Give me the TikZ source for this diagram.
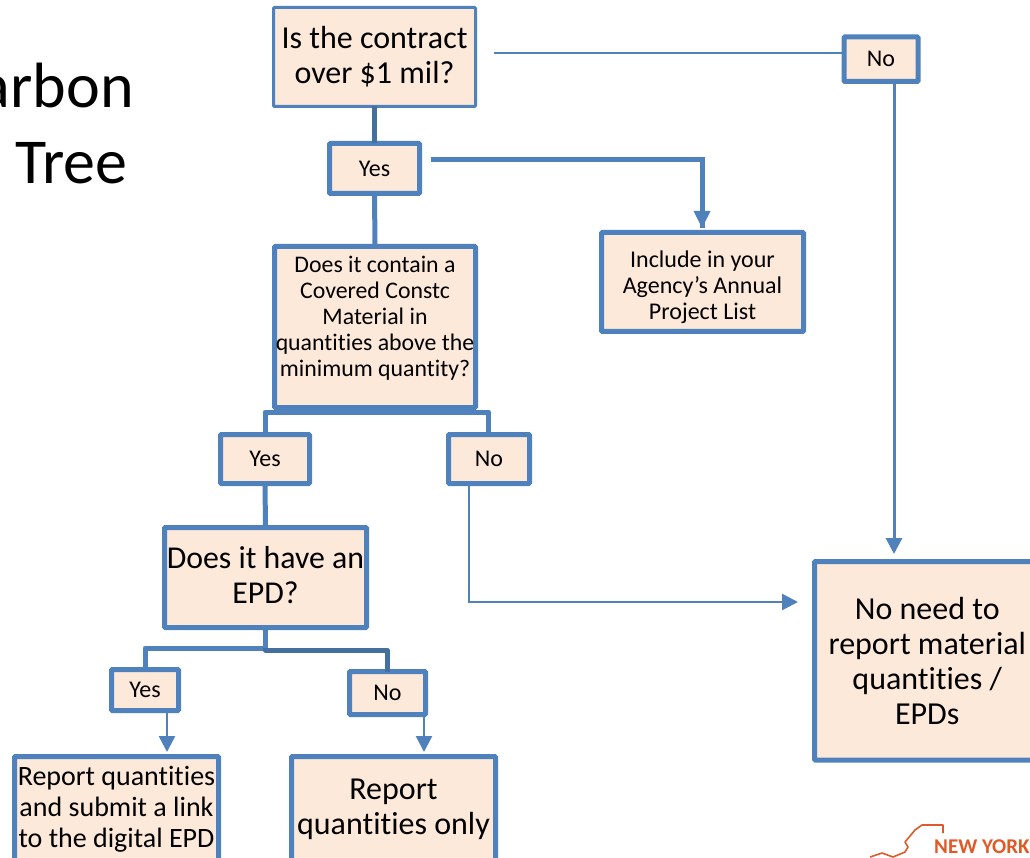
\documentclass[tikz,border=0pt]{standalone}
\usepackage{fontspec}
\setmainfont[Ligatures=NoCommon]{Carlito}
\usetikzlibrary{arrows.meta}
\definecolor{edgeblue}{HTML}{4F81BD}
\definecolor{edgedark}{HTML}{44709F}
\definecolor{fillpeach}{HTML}{FDE9D9}
\definecolor{nyorange}{HTML}{E05A28}
\tikzset{
  fbox/.style={draw=edgeblue,fill=fillpeach,rounded corners=1pt,align=center,inner sep=0pt,outer sep=0pt,text=black,font=\fontsize{#1}{1.09\dimexpr#1pt\relax}\selectfont},
  link/.style={draw=edgeblue,line width=#1},
  tip/.style={-{Triangle[length=16pt,width=16pt]}},
  title/.style={inner sep=0pt,text=black,font=\fontsize{64}{68}\selectfont},
}
\newcommand{\bx}[6]{%
  \node[fbox=#6,minimum width=#4pt-#2pt,minimum height=#5pt-#3pt,anchor=north west] (#1) at (#2,#3)}
\begin{document}
\begin{tikzpicture}[x=1pt,y=-1pt]
\useasboundingbox (0,0) rectangle (1030,858);
\clip (0,0) rectangle (1030,858);
\node[title,anchor=base east] (t1) at (134,108) {arbon};
\node[title,anchor=base west] (t2) at (15,184) {Tree};

\coordinate (c1) at (494,53);
\coordinate (c2) at (431,160);
\coordinate (c3) at (702,160);
\coordinate (c4) at (374.5,412);
\coordinate (c5) at (265,412);
\coordinate (c6) at (488.5,412);
\coordinate (c7) at (469,602);
\coordinate (c8) at (265,648);
\coordinate (c9) at (145,648);
\coordinate (c10) at (387,650);
\coordinate (c11) at (894,82);
\coordinate (c12) at (167,711);
\coordinate (c13) at (424,715);
\coordinate (e1) at (894,554);
\coordinate (e2) at (798,602);
\coordinate (e3) at (702,228);
\coordinate (e4) at (167,752);
\coordinate (e5) at (424,752);

\bx{q1}{273.5}{7.5}{475.5}{106.5}{32}[line width=3pt] {Is the contract\\over \$1 mil?};
\bx{y1}{329.5}{143.5}{419.5}{193.5}{24}[line width=5pt] {Yes};
\bx{q2}{274.5}{246.5}{475.5}{407.5}{23.8}[line width=5pt] {Does it contain a\\Covered Constc\\Material in\\quantities above the\\minimum quantity?\\[-4pt]\mbox{}};
\bx{inc}{601.5}{232.5}{803.5}{331.5}{24}[line width=5pt] {\mbox{}\\[1pt]Include in your\\Agency’s Annual\\Project List};
\bx{y2}{220.5}{434.5}{309.5}{483.5}{24}[line width=5pt] {Yes};
\bx{n2}{448.5}{434.5}{529.5}{483.5}{24}[line width=5pt] {No};
\bx{q3}{164.5}{527.5}{366.5}{627.5}{31.8}[line width=5pt] {Does it have an\\EPD?\\[-29pt]\mbox{}};
\bx{y3}{111.5}{669.5}{178.5}{710.5}{24}[line width=5pt] {Yes};
\bx{n3}{349.5}{671.5}{425.5}{714.5}{24}[line width=5pt] {No};
\bx{r1}{14.5}{756.5}{218.5}{862}{28}[line width=5pt] {Report quantities\\and submit a link\\to the digital EPD};
\bx{r2}{291.5}{756.5}{495.5}{862}{32}[line width=5pt] {Report\\quantities only};
\bx{nn}{814.5}{561.5}{1040}{760}{32}[line width=5pt] {No need to\\report material\\quantities /\\EPDs};
\bx{n1}{844}{37}{918}{81.5}{24}[line width=5pt] {No};

\draw[link=2.5pt] (c1) -- (n1.west |- c1);
\draw[link=3pt,tip] (n1.south -| c11) -- (e1);
\draw[line width=5pt,draw=edgedark] (q1.south) -- (y1.north);
\draw[link=5pt] (y1.south) -- (q2.north);
\draw[link=5pt,line join=miter] (c2) -- (c3) -- (e3);
\draw[link=5pt] (q2.south) -- (c4);
\draw[link=5pt,line join=round] (y2.north) -- (c5) -- (c6) -- (n2.north -| c6);
\draw[link=2.5pt,tip] (n2.south -| c7) -- (c7) -- (e2);
\draw[link=5pt] (y2.south) -- (q3.north);
\draw[link=5pt] (q3.south -| c8) -- (c8);
\draw[link=5pt,line join=round] (y3.north -| c9) -- (c9) -- (c8);
\draw[line width=5pt,draw=edgedark,line join=round] (c8) -- (265,650) -- (c10) -- (n3.north -| c10);
\draw[link=2.5pt,tip] (c12) -- (e4);
\draw[link=2.5pt,tip] (c13) -- (e5);
\fill[edgeblue] (e3) -- ++(-8.5,-17) -- ++(17,0) -- cycle;

\draw[nyorange,line width=1.6pt,line join=round] (943,833) -- (943,825) -- (922,825) -- (915,830) -- (905,842) -- (908,847) -- (905,852) -- (893,857) -- (882,853) -- (870,857);
\node[anchor=base west,inner sep=0pt,font=\fontsize{21}{22}\selectfont\bfseries,text=nyorange] (ny) at (934,853) {NEW YORK};
\end{tikzpicture}
\end{document}
